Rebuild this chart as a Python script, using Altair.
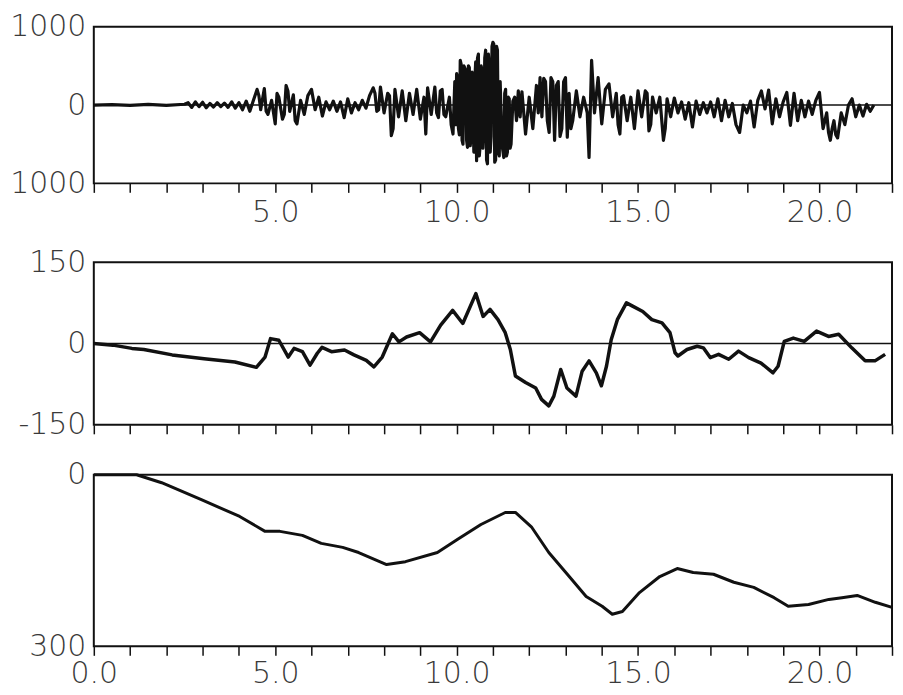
import altair as alt
import pandas as pd

# ---- data (time in s) ----
accel_points = [
    (0.0, 0), (0.5, 5), (1.0, -5), (1.5, 8), (2.0, -5), (2.5, 10), (2.6, 30), (2.7, -30),
    (2.8, 40), (2.9, -20), (3.0, 35), (3.1, -35), (3.2, 20), (3.3, -25), (3.4, 30), (3.5, -20),
    (3.6, 25), (3.7, -30), (3.8, 40), (3.9, -40), (4.0, 30), (4.1, -60), (4.2, 50), (4.3, -80),
    (4.4, 60), (4.5, 200), (4.6, -60), (4.7, 210), (4.8, -120), (4.9, 60), (5.0, -240), (5.1, 100),
    (5.2, -180), (5.3, 250), (5.4, -80), (5.5, 130), (5.6, -240), (5.7, 60), (5.8, -120), (5.9, 120),
    (6.0, 200), (6.1, -60), (6.2, 100), (6.3, -140), (6.4, 40), (6.5, -60), (6.6, 50), (6.7, -80),
    (6.8, 40), (6.9, -160), (7.0, 80), (7.1, -100), (7.2, 30), (7.3, -60), (7.4, 60), (7.5, -40),
    (7.6, 120), (7.7, 220), (7.8, -80), (7.9, 230), (8.0, -100), (8.1, 150), (8.2, -390), (8.3, 200),
    (8.4, -150), (8.5, 180), (8.6, -200), (8.7, 150), (8.8, -120), (8.9, 200), (9.0, -180), (9.1, 100),
    (9.15, -370), (9.2, 220), (9.3, -120), (9.4, 230), (9.5, -160), (9.6, 200), (9.7, -150), (9.8, 100),
    (9.9, -370), (10.0, 400), (10.05, -300), (10.1, 570), (10.15, -450), (10.2, 500), (10.3, -540),
    (10.35, 480), (10.4, -400), (10.5, 300), (10.55, -710), (10.6, 650), (10.65, -500), (10.7, 450),
    (10.75, -300), (10.8, 700), (10.85, -750), (10.9, 500), (10.95, -400), (11.0, 800), (11.05, -730),
    (11.1, 750), (11.15, -600), (11.2, 300), (11.3, -670), (11.35, 200), (11.4, -600), (11.45, 80),
    (11.5, -500), (11.6, 100), (11.7, 180), (11.75, -150), (11.8, 170), (11.9, -370), (12.0, 100),
    (12.1, -300), (12.2, 250), (12.3, 350), (12.35, -150), (12.4, 340), (12.5, -200), (12.6, 350),
    (12.7, -450), (12.8, 300), (12.9, -300), (13.0, 350), (13.05, -410), (13.1, 150), (13.2, -200),
    (13.3, 180), (13.4, -150), (13.5, 100), (13.6, -100), (13.65, -670), (13.72, 570), (13.8, -100),
    (13.9, 350), (14.0, -240), (14.1, 200), (14.2, 270), (14.3, -150), (14.4, 150), (14.5, -370),
    (14.6, 120), (14.7, -200), (14.8, 100), (14.9, -300), (15.0, 180), (15.1, -150), (15.2, 180),
    (15.3, -330), (15.4, 100), (15.5, -100), (15.6, 100), (15.7, -450), (15.8, 80), (15.9, -150),
    (16.0, 90), (16.1, -100), (16.2, 40), (16.3, -180), (16.4, 30), (16.5, -280), (16.6, 50),
    (16.7, -120), (16.8, 30), (16.9, -100), (17.0, 40), (17.1, -150), (17.2, 80), (17.3, -200),
    (17.4, 60), (17.5, -150), (17.6, 20), (17.7, -250), (17.8, -350), (17.9, 0), (18.0, -100),
    (18.1, 50), (18.2, -280), (18.3, 60), (18.4, 180), (18.5, -50), (18.6, 190), (18.7, -240),
    (18.8, 80), (18.9, -150), (19.0, 40), (19.1, 160), (19.2, -260), (19.3, 150), (19.4, -200),
    (19.5, 60), (19.6, -150), (19.7, 50), (19.8, -120), (19.9, 60), (20.0, 160), (20.1, -300),
    (20.2, -100), (20.3, -450), (20.4, -200), (20.5, -420), (20.6, -100), (20.7, -250), (20.8, 0),
    (20.9, 80), (21.0, -150), (21.1, 0), (21.2, -140), (21.3, 10), (21.4, -80), (21.5, 0),
]

# extra readings inside the dense strong-motion band
accel_dense_points = [
    (9.95, 300), (9.975, -250), (10.025, 350), (10.075, -380), (10.125, 520), (10.175, -500),
    (10.25, 450), (10.275, -450), (10.325, 500), (10.375, -520), (10.425, 420), (10.475, -600),
    (10.525, 550), (10.575, 600), (10.625, -650), (10.675, 500), (10.725, -550), (10.775, 600),
    (10.825, -700), (10.875, 650), (10.925, -600), (10.975, 750), (11.025, 780), (11.075, -700),
    (11.125, 700), (11.175, -650), (11.25, -500), (11.325, 150), (11.375, -650), (11.425, 100),
    (11.475, -550), (11.55, 50), (11.65, -200), (12.25, -100), (12.45, 300), (12.55, -350),
    (12.65, 300), (12.75, 250), (12.85, -400), (12.95, 300), (13.15, -300),
    (4.55, 120), (4.75, -80), (5.05, 150), (5.25, -120), (5.35, 180), (5.55, -200), (7.75, 150),
    (7.85, -60), (8.15, 120), (8.25, -300), (9.45, -100), (9.55, 180), (9.65, -120), (9.85, -250),
    (14.45, -250), (14.55, 100), (15.25, 150), (15.35, -250), (15.75, -300), (20.25, -350),
    (20.35, -300), (20.45, -380),
]

velocity_points = [
    (0.0, 0), (0.53, -3), (1.05, -9), (1.38, -11), (2.16, -21), (3.04, -28), (3.89, -34),
    (4.48, -44), (4.72, -25), (4.87, 9), (5.10, 6), (5.36, -25), (5.52, -9), (5.75, -15),
    (5.96, -40), (6.16, -18), (6.29, -7), (6.55, -15), (6.91, -12), (7.17, -21), (7.51, -31),
    (7.72, -43), (7.95, -25), (8.23, 18), (8.41, 3), (8.62, 12), (8.98, 20), (9.28, 3),
    (9.56, 34), (9.89, 61), (10.17, 37), (10.53, 92), (10.73, 50), (10.92, 63), (11.14, 44),
    (11.34, 20), (11.48, -11), (11.62, -60), (11.90, -72), (12.18, -82), (12.34, -103),
    (12.54, -115), (12.68, -97), (12.87, -48), (13.04, -82), (13.29, -97), (13.46, -51),
    (13.65, -32), (13.85, -54), (13.99, -78), (14.13, -42), (14.26, 7), (14.43, 44),
    (14.68, 75), (14.85, 69), (15.13, 59), (15.38, 44), (15.66, 38), (15.88, 20), (16.02, -17),
    (16.10, -23), (16.35, -11), (16.63, -5), (16.80, -8), (16.99, -26), (17.22, -20),
    (17.50, -29), (17.77, -14), (18.05, -26), (18.39, -36), (18.72, -54), (18.86, -42),
    (19.03, 4), (19.28, 10), (19.58, 4), (19.92, 23), (20.25, 13), (20.53, 17), (20.89, -8),
    (21.26, -32), (21.53, -32), (21.81, -20),
]

displacement_points = [
    (0.0, 0), (1.18, 0), (1.87, 14), (2.98, 44), (4.02, 73), (4.72, 99), (5.13, 99),
    (5.75, 106), (6.27, 120), (6.86, 127), (7.30, 136), (8.07, 157), (8.59, 152), (9.47, 136),
    (10.03, 113), (10.67, 87), (11.34, 66), (11.62, 66), (12.06, 91), (12.54, 136), (13.01, 171),
    (13.57, 213), (14.01, 230), (14.29, 244), (14.57, 239), (15.04, 206), (15.60, 178),
    (16.08, 164), (16.52, 171), (17.08, 174), (17.64, 188), (18.19, 197), (18.75, 215),
    (19.14, 230), (19.70, 227), (20.26, 218), (20.62, 215), (21.04, 211), (21.54, 223),
    (22.0, 232),
]

x_ticks = list(range(0, 23))
accel_ticks = [-1000, 0, 1000]
velocity_ticks = [-150, 0, 150]
displacement_ticks = [0, 300]
zero_line = [0]

accel = pd.DataFrame(sorted(accel_points + accel_dense_points), columns=["t", "v"])
vel = pd.DataFrame(velocity_points, columns=["t", "v"])
disp = pd.DataFrame(displacement_points, columns=["t", "v"])
zero = pd.DataFrame({"v": zero_line})

W = 800
FONT = "DejaVu Sans"
LC = "#3a3a3a"


def x_enc(label_expr=None, labels=True, pad=5):
    kw = dict(values=x_ticks, title=None, labelFlush=False, labelOverlap=False,
              tickSize=9, tickWidth=1.5, tickColor="#111", domain=False, grid=False,
              labelPadding=pad, labels=labels)
    if label_expr is not None:
        kw["labelExpr"] = label_expr
    return alt.X("t:Q", scale=alt.Scale(domain=[0, 22], nice=False, zero=False),
                 axis=alt.Axis(**kw))


def y_axis(values, label_expr=None):
    kw = dict(values=values, title=None, ticks=False, domain=False, grid=False,
              labelPadding=8)
    if label_expr is not None:
        kw["labelExpr"] = label_expr
    return alt.Axis(**kw)


top_line = alt.Chart(accel).mark_line(color="#111", strokeWidth=3.2, strokeJoin="round").encode(
    x=x_enc("datum.value > 0 && datum.value % 5 == 0 ? format(datum.value, '.1f') : ''"),
    y=alt.Y("v:Q", scale=alt.Scale(domain=[-1000, 1000], nice=False),
            axis=y_axis(accel_ticks, "format(abs(datum.value), 'd')")),
)
top_zero = alt.Chart(zero).mark_rule(color="#111", strokeWidth=1.5).encode(y="v:Q")
top = alt.layer(top_zero, top_line).properties(width=W, height=157)

mid_line = alt.Chart(vel).mark_line(color="#111", strokeWidth=3.5, strokeJoin="round").encode(
    x=x_enc(labels=False),
    y=alt.Y("v:Q", scale=alt.Scale(domain=[-150, 150], nice=False),
            axis=y_axis(velocity_ticks, "datum.value < 0 ? '-' + abs(datum.value) : '' + datum.value")),
)
mid_zero = alt.Chart(zero).mark_rule(color="#111", strokeWidth=1.5).encode(y="v:Q")
mid = alt.layer(mid_zero, mid_line).properties(width=W, height=163)

bot = alt.Chart(disp).mark_line(color="#111", strokeWidth=3, strokeJoin="round").encode(
    x=x_enc("datum.value % 5 == 0 ? format(datum.value, '.1f') : ''", pad=3),
    y=alt.Y("v:Q", scale=alt.Scale(domain=[0, 300], nice=False, reverse=True),
            axis=y_axis(displacement_ticks)),
).properties(width=W, height=172)

chart = alt.vconcat(top, mid, bot, spacing=18).properties(
    padding={"left": 0, "right": 0, "top": 2, "bottom": 0}
).configure_view(
    stroke="#111", strokeWidth=2
).configure_axis(
    labelFont=FONT, labelFontSize=30, labelColor=LC, labelFontWeight=300
)

chart.save("out.html", embed_options={"renderer": "svg", "actions": False})
